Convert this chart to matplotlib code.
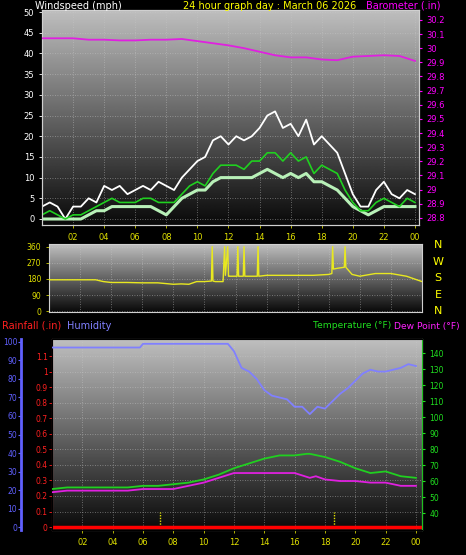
import numpy as np
import matplotlib
matplotlib.use("Agg")
import matplotlib.pyplot as plt

# ---------------- data ----------------
half_hours = [i * 0.5 for i in range(49)]
wind_gust = [3,4,3,0,3,3,5,4,8,7,8,6,7,8,7,9,8,7,10,12,14,15,19,20,18,20,19,20,22,25,26,22,23,20,24,18,20,18,16,11,6,3,3,7,9,6,5,7,6]
wind_avg = [1,2,1,0,1,1,2,3,4,5,4,4,4,5,5,4,4,4,6,8,9,8,11,13,13,13,12,14,14,16,16,14,16,14,15,11,13,12,11,7,4,2,2,4,5,4,3,5,4]
wind_low = [0,0,0,0,0,0,1,2,2,3,3,3,3,3,3,2,1,3,5,6,7,7,9,10,10,10,10,10,11,12,11,10,11,10,11,9,9,8,7,5,3,2,1,2,3,3,3,3,3]

baro_hours = list(range(25))
baro = [30.07,30.07,30.07,30.06,30.06,30.055,30.055,30.06,30.06,30.065,30.05,30.035,30.02,30.0,29.975,29.95,29.935,29.935,29.92,29.915,29.94,29.945,29.95,29.945,29.91]

dir_hours = [0,1,2,3,3.5,4,5,6,7,8,8.5,9,9.5,10,10.45,10.5,10.55,10.7,11.2,11.3,11.35,11.5,11.55,11.6,12.1,12.15,12.2,12.5,12.55,12.6,13.4,13.45,13.5,14,15,16,17,18,18.2,18.25,18.3,18.6,19.0,19.05,19.1,19.5,20,21,22,23,24]
wind_dir = [175,175,175,175,165,160,160,158,158,150,152,150,165,165,168,360,168,165,165,360,200,360,195,195,195,360,195,195,360,195,195,360,195,200,200,200,200,205,210,360,235,240,245,360,245,205,195,210,210,195,165]

temp_hours = [0,1,2,3,4,5,6,7,8,9,10,11,12,13,14,15,16,16.8,17,18,19,20,21,22,23,24]
temperature = [55,56,56,56,56,56,57,57,58,59,61,64,68,71,74,76,76,77,77,75,72,68,65,66,63,62]
dew_hours = [0,1,2,3,4,5,6,7,8,9,10,11,12,13,14,15,16,17,17.4,18,19,20,21,22,23,24]
dew_point = [53,54,54,54,54,54,55,55,55,57,59,62,65,65,65,65,65,62,63,61,60,60,59,59,57,57]
hum_hours = [0,5.8,6,11.6,12,12.5,13,13.5,14,14.5,15,15.5,16,16.5,17,17.5,18,18.5,19,19.5,20,20.5,21,21.5,22,22.5,23,23.5,24]
humidity = [97,97,99,99,95,86,84,80,74,71,70,69,65,65,61,65,64,68,72,75,79,83,85,84,84,85,86,88,87]
rain_hours = [0,24.4]
rainfall = [0,0]
marker_hours = [7.1,18.6]

hour_ticks = list(range(2, 25, 2))
hour_labels = ["%02d" % (h % 24) for h in hour_ticks]

W, H = 466, 555
fig = plt.figure(figsize=(W/100, H/100), dpi=100, facecolor="black")
grad = np.linspace(0, 1, 256).reshape(-1, 1)

def style(ax):
    ax.set_facecolor("black")
    ax.imshow(grad, extent=[0, 1, 0, 1], transform=ax.transAxes, aspect="auto",
              cmap="gray", vmin=-0.05, vmax=1.35, origin="lower", zorder=0)
    ax.grid(True, color="#c8c8c8", linestyle=(0, (1, 2)), linewidth=0.6, alpha=0.6)
    for s in ax.spines.values():
        s.set_color("#d0d0d0")
    ax.tick_params(length=2, width=0.6, labelsize=6)

fs = 7
# ---------- top panel ----------
ax1 = fig.add_axes([42/W, 1-225/H, 377/W, 215/H])
style(ax1)
ax1.set_xlim(0, 24.26)
ax1.set_ylim(-1.45, 50.5)
ax1.plot(half_hours, wind_gust, color="white", lw=1.3, zorder=3)
ax1.plot(half_hours, wind_low, color="#b8f0b8", lw=2.2, zorder=4)
ax1.plot(half_hours, wind_avg, color="#20d020", lw=1.2, zorder=5)
ax1.set_yticks(range(0, 51, 5))
ax1.tick_params(axis="y", colors="white", labelcolor="white")
ax1.set_xticks(hour_ticks)
ax1.set_xticklabels(hour_labels)
ax1.tick_params(axis="x", colors="#d0d000", labelcolor="#e0e000")
ax1b = ax1.twinx()
ax1b.set_ylim(28.75, 30.27)
ax1b.plot(baro_hours, baro, color="#e020e0", lw=1.3, zorder=6)
ax1b.set_yticks(np.round(np.arange(28.8, 30.21, 0.1), 1))
ax1b.set_yticklabels(["%g" % v for v in np.round(np.arange(28.8, 30.21, 0.1), 1)])
ax1b.tick_params(axis="y", colors="#ff00ff", labelcolor="#ff00ff", length=2, labelsize=6)
for s in ax1b.spines.values():
    s.set_color("#d0d0d0")

fig.text(35/W, 1-6/H, "Windspeed (mph)", color="white", fontsize=fs, va="center")
fig.text(270/W, 1-6/H, "24 hour graph day : March 06 2026", color="#ffff00", fontsize=fs, va="center", ha="center")
fig.text(440/W, 1-6/H, "Barometer (.in)", color="#ff00ff", fontsize=fs, va="center", ha="right")

# ---------- middle panel ----------
ax2 = fig.add_axes([49/W, 1-312/H, 373/W, 68/H])
style(ax2)
ax2.set_xlim(0, 24)
ax2.set_ylim(-5, 375)
ax2.plot(dir_hours, wind_dir, color="#e8e820", lw=1.0, zorder=3)
ax2.set_yticks([0, 90, 180, 270, 360])
ax2.set_xticks(hour_ticks)
ax2.tick_params(axis="x", labelbottom=False, length=0)
ax2.tick_params(axis="y", colors="#d0d000", labelcolor="#e0e000", labelsize=5.5)
for lab, yy in zip(["N", "W", "S", "E", "N"], [245, 262, 278, 295, 311]):
    fig.text(438/W, 1-yy/H, lab, color="#ffff00", fontsize=8, ha="center", va="center")

# ---------- bottom panel ----------
fig.text(2/W, 1-326/H, "Rainfall (.in)", color="#ff2020", fontsize=fs, va="center")
fig.text(67/W, 1-326/H, "Humidity", color="#8080ff", fontsize=fs, va="center")
fig.text(391/W, 1-326/H, "Temperature (°F)", color="#20e020", fontsize=6.6, va="center", ha="right")
fig.text(394/W, 1-326/H, "Dew Point (°F)", color="#ff20ff", fontsize=6.6, va="center")

ax3 = fig.add_axes([52/W, 1-530/H, 370/W, 191/H])
style(ax3)
ax3.set_xlim(0, 24.4)
ax3.set_ylim(-0.019, 1.21)
ax3.plot(rain_hours, rainfall, color="#ff0000", lw=2.5, zorder=6)
ax3.vlines(marker_hours, 0, 0.1, colors="#e0e000", linestyles=(0, (1, 1)), lw=1, zorder=5)
ax3.set_yticks(np.round(np.arange(0, 1.11, 0.1), 1))
ax3.set_yticklabels(["%g" % v for v in np.round(np.arange(0, 1.11, 0.1), 1)])
ax3.tick_params(axis="y", colors="#ff2020", labelcolor="#ff2020", labelsize=5.5, pad=1)
ax3.set_xticks(hour_ticks)
ax3.set_xticklabels(hour_labels)
ax3.tick_params(axis="x", colors="#d0d000", labelcolor="#e0e000")
ax3.spines["left"].set_color("#ff4040")

ax3t = ax3.twinx()
ax3t.set_ylim(29.4, 148.75)
ax3t.plot(temp_hours, temperature, color="#20d020", lw=1.3, zorder=4)
ax3t.plot(dew_hours, dew_point, color="#e020e0", lw=1.3, zorder=4)
ax3t.set_yticks(range(40, 141, 10))
ax3t.tick_params(axis="y", colors="#20e020", labelcolor="#20e020", labelsize=5.5, length=2)
ax3t.spines["right"].set_color("#20c020")

ax3h = ax3.twinx()
ax3h.set_ylim(-1.6, 101.6)
ax3h.plot(hum_hours, humidity, color="#8080ff", lw=1.3, zorder=4)
ax3h.yaxis.set_ticks_position("left")
ax3h.yaxis.set_label_position("left")
ax3h.spines["left"].set_position(("outward", 22))
ax3h.spines["left"].set_visible(True)
ax3h.spines["left"].set_color("#6060ff")
ax3h.spines["left"].set_linewidth(2)
ax3h.set_yticks(range(0, 101, 10))
ax3h.tick_params(axis="y", colors="#6060ff", labelcolor="#6060ff", labelsize=5.5, length=2, pad=1)
for s in ["top", "bottom", "right"]:
    ax3h.spines[s].set_visible(False)

fig.savefig("out.png", dpi=100, facecolor="black")
